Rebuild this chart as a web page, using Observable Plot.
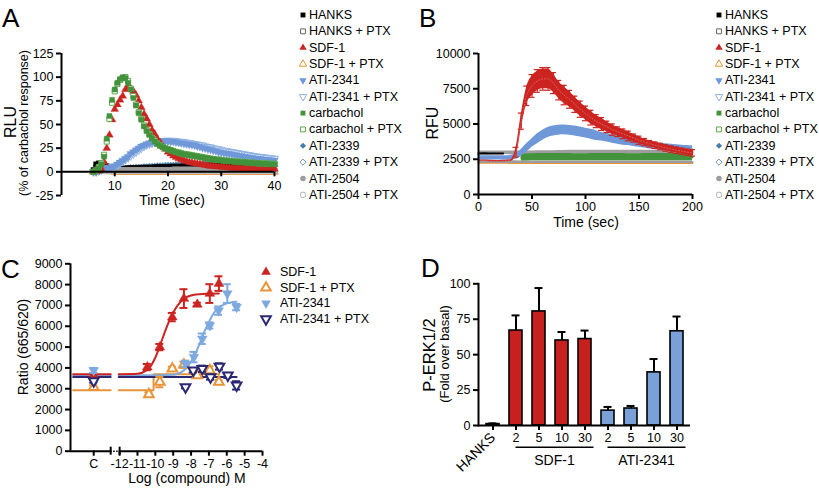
<!DOCTYPE html>
<html><head><meta charset="utf-8">
<script src="https://cdn.jsdelivr.net/npm/d3@7"></script>
<script src="https://cdn.jsdelivr.net/npm/@observablehq/plot@0.6"></script>
<style>
body{margin:0;background:#fff;}
#root{position:relative;width:819px;height:488px;overflow:hidden;background:#fff;}
</style></head><body><div id="root"></div>
<script>
// ---------------- DATA ----------------
// Panel A (RLU, % of carbachol response) sampled every 0.5 s
const timeA = [6,6.5,7,7.5,8,8.5,9,9.5,10,10.5,11,11.5,12,12.5,13,13.5,14,14.5,15,15.5,16,16.5,17,17.5,18,18.5,19,19.5,20,20.5,21,21.5,22,22.5,23,23.5,24,24.5,25,25.5,26,26.5,27,27.5,28,28.5,29,29.5,30,30.5,31,31.5,32,32.5,33,33.5,34,34.5,35,35.5,36,36.5,37,37.5,38,38.5,39,39.5,40];
const carbA = [0,2,4,8,16,35,59,76,87,94, 98,100,99,94,87,78,70,62,55,48, 43,39,35.5,32,29.5,27.5,26,24.5,23.5,22.5, 21.5,20.5,20,19,18.5,18,17.5,17,16.5,16, 15.5,15,14.5,14,13.5,13,12.5,12.5,12,11.5, 11.5,11,11,10.5,10.5,10,10,10,9.5,9.5, 9,9,9,8.5,8.5,8.5,8,8,8];
const carbPtxA = [0,1,5,9,18,32,56,73,85,93, 97,99,100,96,88,80,71,63,56,49, 44,40,36,33,30,28,26.5,25,24,23, 22,21,20.5,19.5,19,18.5,18,17.5,17,16.5, 16,15.5,15,14.5,14,13.5,13,13,12.5,12, 12,11.5,11.5,11,11,10.5,10.5,10,10,10, 9.5,9.5,9,9,9,8.5,8.5,8.5,8.5];
const sdfA = [0,0,1,3,10,25,39,55,66,71, 76,80,87,90,88,85,81,75,68,61, 56,50,44,40,35,31,27,24,21,19, 17,15.5,14,13,12,11,10,9.5,9,8.5, 8,7.5,7,6.5,6,6,5.5,5.5,5,5, 4.5,4.5,4,4,4,4,3.5,3.5,3.5,3.5, 3,3,3,3,3,3,3,3,3];
const sdfPtxA = [0,0,1,1,1,0.5,0.5,0.5,0,0, 0,0,0,0,0,0,0,0,0,0, 0,0,0,0,0,0,0,0,0,0, 0,0,0,0,0,0,0,0,0,0, 0,0,0,0,0,0,0,0,0,0, 0,0,0,0,0,0,0,0,0,0, 0,0,0,0,0,0,0,0,0];
const ati2341A = [0,0,2,3,4,4,4,5,6,8, 10,12,14,16,19,21,23,25,27,28, 29.5,30.5,31.5,32,32.5,32.5,32.5,32.5,32.5,32, 32,31.5,31,30.5,30,29.5,29,28.5,28,27, 26.5,25.5,25,24,23.5,22.5,22,21,20.5,20, 19.5,19,18.5,18,17.5,17,16.5,16,15.5,15, 14.5,14,14,13.5,13,13,12.5,12.5,12];
const ati2341PtxA = [0,0,1,2,3,4,4,5,6,7, 9,11,13,15,17,19,21,23,25,27, 28.5,29.5,30.5,31,31.5,32,32.5,33,33,33, 33,32.5,32,32,31.5,31,30.5,30,29.5,29, 28.5,28,27,26.5,26,25,24.5,24,23,22.5, 22,21.5,21,20.5,20,19.5,19,18.5,18,17.5, 17,16.5,16,16,15.5,15,15,14.5,14];
const hanksA = [2,8,9,9,8,6,4,3.5,3.5,3.5, 3.5,3.5,3.5,4,4,4,4,4,4.5,4.5, 4.5,4.5,4.5,5,5,5,5,5,5,5.5, 5.5,5.5,5.5,5.5,6,6,6,6,6,6, 6,6.5,6.5,6.5,6.5,6.5,6.5,7,7,7, 7,7,7,7,7,7.5,7.5,7.5,7.5,7.5, 7.5,7.5,8,8,8,8,8,8,8];
const hanksPtxA = [0,5,7,6,4,2,1,1,1,1, 1,1,1,1,1,1,1,1,1,1, 1,1,1,1,1,1,1,1,1,1, 1,1,1,1,1,1,1,1,1,1, 1,1,1,1,1,1,1,1,1,1, 1,1,1,1,1,1,1,1,1,1, 1,1,1,1,1,1,1,1,1];
const ati2339A = [0,1,2,3,3,3,3,3,3,3.5, 3.5,4,4,4,4.5,4.5,5,5,5,5.5, 5.5,6,6,6,6.5,6.5,6.5,7,7,7, 7,7.5,7.5,7.5,7.5,8,8,8,8,8, 8,8.5,8.5,8.5,8.5,8.5,8.5,9,9,9, 9,9,9,9,9,9,9,9,9,9, 9,9,9,9,9,9,9,9,9];
const ati2339PtxA = [0,1,2,2,2,2,2,2,2,2, 2.5,2.5,2.5,2.5,3,3,3,3,3,3.5, 3.5,3.5,3.5,4,4,4,4,4,4.5,4.5, 4.5,4.5,4.5,5,5,5,5,5,5,5, 5.5,5.5,5.5,5.5,5.5,5.5,5.5,6,6,6, 6,6,6,6,6,6,6,6,6,6, 6,6,6,6,6,6,6,6,6];
const ati2504A = [0,2,3,3,2,2,2,2,2,2, 2,2,2,2,2,2,2,2,2,2, 2,2,2,2,2,2,2,2,2,2, 2.5,2.5,2.5,2.5,2.5,2.5,2.5,2.5,2.5,2.5, 2.5,2.5,2.5,2.5,2.5,2.5,2.5,2.5,2.5,2.5, 3,3,3,3,3,3,3,3,3,3, 3,3,3,3,3,3,3,3,3];
const ati2504PtxA = [0,1,1,1,1,1,1,1,1,1, 1,1,1,1,1,1,1,1,1,1, 1,1,1,1,1,1,1,1,1,1, 1,1,1,1,1,1,1,1,1,1, 1,1,1,1,1,1,1,1,1,1, 1,1,1,1,1,1,1,1,1,1, 1,1,1,1,1,1,1,1,1];
const yTicksA = [-25,0,25,50,75,100,125];
const xTicksA = [10,20,30,40];

// Panel B (RFU)
const timeB5 = [0,5,10,15,20,25,30,35,40,45,50,55,60,65,70,75,80,85,90,95,100,105,110,115,120,125,130,135,140,145,150,155,160,165,170,175,180,185,190,195,200];
const timeB10 = [0,10,20,30,40,50,60,70,80,90,100,110,120,130,140,150,160,170,180,190,200];
const timeGreenB = [40,50,60,70,80,90,100,110,120,130,140,150,160,170,180,190,200];
const timeHanksB = [0,5,10,15,20,23];
const sdfB = [2400,2400,2380,2370,2370,2380,2400,3000,5200,7000,7700,8050,8200,8200,7900,7400,7050,6750,6400,6050,5750,5450,5200,5000,4800,4600,4450,4300,4150,4000,3850,3720,3600,3500,3400,3300,3220,3140,3070,3000,2950];
const sdfErrB = [50,50,50,50,50,50,60,300,500,600,700,700,700,700,650,600,600,550,500,500,450,450,400,400,350,350,300,300,300,250,250,220,200,200,200,200,200,200,200,200,200];
const ati2341B = [2600,2600,2600,2600,2600,2600,2620,2700,2950,3300,3650,3950,4200,4400,4500,4560,4580,4550,4500,4430,4350,4270,4180,4100,4020,3940,3870,3800,3730,3660,3600,3540,3480,3430,3390,3350,3310,3280,3250,3230,3200];
const ati2341ErrB = [150,150,150,150,150,150,150,200,250,300,300,350,350,350,350,350,350,350,350,350,350,350,350,300,300,300,300,300,250,250,250,250,250,250,250,250,250,250,250,250,250];
const carbB = [2620,2640,2650,2650,2650,2640,2640,2650,2650,2650,2640,2640,2650,2650,2650,2650,2650];
const carbErrB = 250;
const ati2504B = [2950,2950,2960,2950,2950,2960,2970,2980,2990,3000,3000,3000,3000,3000,3000,3000,3000,3000,3000,3000,3000];
const ati2504ErrB = 130;
const ati2504PtxB = [2320,2320,2310,2310,2300,2300,2300,2300,2300,2300,2300,2300,2300,2300,2300,2300,2300,2300,2300,2300,2300];
const ati2504PtxErrB = 80;
const sdfPtxB = [2250,2250,2250,2240,2240,2240,2240,2240,2240,2240,2240,2240,2240,2240,2240,2240,2240,2240,2240,2240,2240];
const sdfPtxErrB = 50;
const hanksB = [2900,2920,2900,2910,2900,2900];
const yTicksB = [0,2500,5000,7500,10000];
const xTicksB = [0,50,100,150,200];

// Panel C (Ratio 665/620 vs log [compound] M)
const cPosC = -13.45;            // position of the "C" (control) column
const sdfC = {x:[cPosC,-10.45,-9.75,-9.05,-8.40,-7.65,-6.95,-6.44], y:[3650,4040,5000,6440,7330,7050,7570,8050], e:[100,150,150,200,450,80,450,350]};
const sdfPtxC = {x:[cPosC,-10.36,-9.75,-9.05,-8.40,-7.65,-6.95,-6.44], y:[3070,2730,3320,3960,4150,3640,3880,3320], e:[100,100,250,100,150,100,200,100]};
const ati2341C = {x:[cPosC,-8.31,-7.84,-7.37,-6.95,-6.46,-5.97,-5.45], y:[3880,4200,4520,5400,6040,6750,7570,6920], e:[120,150,250,250,150,200,450,150]};
const ati2341PtxC = {x:[cPosC,-8.31,-7.88,-7.37,-6.91,-6.41,-5.94,-5.45], y:[3370,3080,3880,3960,3560,4070,3640,3160], e:[80,60,100,150,120,150,120,200]};
const fitSdfC = {x:[-14.6,-12.5,-12.3,-12.05,-11,-10.5,-10.25,-10,-9.75,-9.5,-9.25,-9,-8.75,-8.5,-8.25,-8,-7.5,-7,-6.44], y:[3700,3700,NaN,3700,3720,3880,4100,4500,5050,5650,6200,6650,7000,7250,7400,7480,7540,7560,7570]};
const fitAti2341C = {x:[-14.6,-12.5,-12.3,-12.05,-10,-9,-8.75,-8.5,-8.25,-8,-7.75,-7.5,-7.25,-7,-6.75,-6.5,-6.25,-6,-5.75,-5.45], y:[3650,3650,NaN,3650,3650,3670,3720,3820,4000,4300,4700,5200,5750,6200,6600,6850,7000,7100,7150,7180]};
const fitAti2341PtxC = {x:[-14.6,-12.5,-12.3,-12.05,-5.45], y:[3560,3560,NaN,3560,3560]};
const fitSdfPtxC = {x:[-14.6,-12.5,-12.3,-12.05,-10.1,-10.1,-6.44], y:[2930,2930,NaN,2930,2930,3700,3700]};
const xTickValsC = [cPosC,-12,-11,-10,-9,-8,-7,-6,-5,-4];
const xTickLabelsC = ["C","-12","-11","-10","-9","-8","-7","-6","-5","-4"];
const yTicksC = [0,1000,2000,3000,4000,5000,6000,7000,8000,9000];

// Panel D (P-ERK1/2, fold over basal)
const dIds = ["HANKS","S2","S5","S10","S30","A2","A5","A10","A30"];
const dTickLabels = ["","2","5","10","30","2","5","10","30"];
const dGroups = ["HANKS","SDF-1","SDF-1","SDF-1","SDF-1","ATI-2341","ATI-2341","ATI-2341","ATI-2341"];
const dValues = [1,67,80.5,60,61,10.5,12,37.5,66.5];
const dErrors = [0.5,10.7,16.5,6,6,2.6,1.8,9.4,10.4];
const yTicksD = [0,25,50,75,100];

// Legends
const legendAB = ["HANKS","HANKS + PTX","SDF-1","SDF-1 + PTX","ATI-2341","ATI-2341 + PTX","carbachol","carbachol + PTX","ATI-2339","ATI-2339 + PTX","ATI-2504","ATI-2504 + PTX"];
const legendC = ["SDF-1","SDF-1 + PTX","ATI-2341","ATI-2341 + PTX"];

// ---------------- STYLE ----------------
const W = 819, H = 488;
const FONT = "'Liberation Sans', Arial, Helvetica, sans-serif";
const baseStyle = `position:absolute;left:0;top:0;background:transparent;overflow:visible;font-family:${FONT};font-size:12.5px;color:#000;`;
const col = {
  black:"#000000", grayDk:"#666666", red:"#cc2420", orange:"#e8953a",
  blue:"#6f98d8", blueLt:"#8cb0e2", green:"#43923c", greenLt:"#5caa4e",
  steel:"#4a7ea8", steelLt:"#6a98bf", gray:"#9d9d9d", grayLt:"#b4b4b4",
  blueC:"#7ea9e0", navy:"#2a2872", barRed:"#c8201e", barBlue:"#7aa0d8"
};
const stAB = [
  {symbol:"square", color:col.black},
  {symbol:"square", color:col.grayDk, open:true},
  {symbol:"triangle", color:col.red},
  {symbol:"triangle", color:col.orange, open:true},
  {symbol:"triangle", color:col.blue, down:true},
  {symbol:"triangle", color:col.blueLt, open:true, down:true},
  {symbol:"square", color:col.green},
  {symbol:"square", color:col.greenLt, open:true},
  {symbol:"diamond2", color:col.steel},
  {symbol:"diamond2", color:col.steelLt, open:true},
  {symbol:"circle", color:col.gray},
  {symbol:"circle", color:col.grayLt, open:true}
];
const stC = [
  {symbol:"triangle", color:col.red},
  {symbol:"triangle", color:col.orange, open:true, sw:2},
  {symbol:"triangle", color:col.blueC, down:true},
  {symbol:"triangle", color:col.navy, open:true, down:true, sw:2}
];

const root = document.getElementById("root");

// ---------------- PANEL A ----------------
function dotsA(values, st) {
  const data = values.map((v, i) => ({t: timeA[i], v}));
  return Plot.dot(data, {x: "t", y: "v", r: 2.9, symbol: st.symbol, rotate: st.down ? 180 : 0,
    fill: st.open ? "#fff" : st.color, stroke: st.color, strokeWidth: st.open ? 1 : 0.3});
}
const orderA = [
  [sdfPtxA, 3], [hanksPtxA, 1], [ati2339PtxA, 9], [ati2339A, 8], [hanksA, 0],
  [ati2504PtxA, 11], [ati2504A, 10], [ati2341PtxA, 5], [ati2341A, 4], [sdfA, 2],
  [carbPtxA, 7], [carbA, 6]
];
const plotA = Plot.plot({
  width: W, height: H, marginLeft: 61, marginRight: W - 274, marginTop: 53, marginBottom: H - 195,
  style: baseStyle,
  x: {domain: [0, 40], axis: null},
  y: {domain: [-25, 125]},
  marks: [
    Plot.axisY(yTicksA, {tickSize: 5, tickPadding: 3, strokeWidth: 2, fontSize: 12.5, tickFormat: d => String(d), label: null}),
    ...orderA.map(([vals, k]) => dotsA(vals, stAB[k])),
    Plot.ruleX([0], {strokeWidth: 2}),
    Plot.ruleY([0], {strokeWidth: 2}),
    Plot.ruleX(xTicksA, {x: d => d, y1: 0, y2: 0, insetBottom: -5, strokeWidth: 2}),
    Plot.text(xTicksA, {x: d => d, y: 0, dy: 14, text: d => String(d), fontSize: 12.5})
  ]
});
root.appendChild(plotA);

// ---------------- PANEL B ----------------
function bandB(times, vals, errs, color, lineW = 2) {
  const data = vals.map((v, i) => ({t: times[i], v, e: Array.isArray(errs) ? errs[i] : errs}));
  return [
    Plot.areaY(data, {x: "t", y1: d => d.v - d.e, y2: d => d.v + d.e, fill: color, curve: "monotone-x"}),
    Plot.line(data, {x: "t", y: "v", stroke: color, strokeWidth: lineW, curve: "monotone-x"})
  ];
}
const sdfDataB = sdfB.map((v, i) => ({t: timeB5[i], v, e: sdfErrB[i]}));
const sdfBarsB = sdfDataB.filter(d => d.e > 100);
const plotB = Plot.plot({
  width: W, height: H, marginLeft: 478, marginRight: W - 692, marginTop: 53, marginBottom: H - 194,
  style: baseStyle,
  x: {domain: [0, 200]},
  y: {domain: [0, 10000]},
  marks: [
    Plot.axisY(yTicksB, {tickSize: 5, tickPadding: 3, strokeWidth: 2, fontSize: 12.5, tickFormat: d => String(d), label: null}),
    Plot.axisX(xTicksB, {tickSize: 5, tickPadding: 3, strokeWidth: 2, fontSize: 12.5, tickFormat: d => String(d), label: null}),
    ...bandB(timeB10, sdfPtxB, sdfPtxErrB, col.orange),
    ...bandB(timeB10, ati2504PtxB, ati2504PtxErrB, col.gray),
    ...bandB(timeB10, ati2504B, ati2504ErrB, col.gray),
    ...bandB(timeGreenB, carbB, carbErrB, col.green),
    Plot.line(hanksB.map((v, i) => ({t: timeHanksB[i], v})), {x: "t", y: "v", stroke: col.black, strokeWidth: 2}),
    ...bandB(timeB5, ati2341B, ati2341ErrB, col.blue),
    Plot.areaY(sdfDataB, {x: "t", y1: d => d.v - d.e, y2: d => d.v + d.e, fill: col.red, curve: "monotone-x"}),
    Plot.ruleX(sdfBarsB, {x: "t", y1: d => d.v - d.e * 1.15, y2: d => d.v + d.e * 1.15, stroke: col.red, strokeWidth: 1.2}),
    Plot.ruleY(sdfBarsB, {y: d => d.v + d.e * 1.15, x1: "t", x2: "t", insetLeft: -3, insetRight: -3, stroke: col.red, strokeWidth: 1.2}),
    Plot.ruleY(sdfBarsB, {y: d => d.v - d.e * 1.15, x1: "t", x2: "t", insetLeft: -3, insetRight: -3, stroke: col.red, strokeWidth: 1.2}),
    Plot.line(sdfDataB, {x: "t", y: "v", stroke: "#e06060", strokeWidth: 1, strokeDasharray: "1,2", curve: "monotone-x"}),
    Plot.ruleX([0], {strokeWidth: 2}),
    Plot.ruleY([0], {strokeWidth: 2})
  ]
});
root.appendChild(plotB);

// ---------------- PANEL C ----------------
function ptsC(s, st) {
  const data = s.x.map((x, i) => ({x, y: s.y[i], e: s.e[i]}));
  return [
    Plot.ruleX(data, {x: "x", y1: d => d.y - d.e, y2: d => d.y + d.e, stroke: st.color, strokeWidth: 2}),
    Plot.ruleY(data, {y: d => d.y + d.e, x1: "x", x2: "x", insetLeft: -4, insetRight: -4, stroke: st.color, strokeWidth: 2}),
    Plot.ruleY(data, {y: d => d.y - d.e, x1: "x", x2: "x", insetLeft: -4, insetRight: -4, stroke: st.color, strokeWidth: 2}),
    Plot.dot(data, {x: "x", y: "y", r: 3.6, symbol: st.symbol, rotate: st.down ? 180 : 0,
      fill: st.open ? "#fff" : st.color, stroke: st.color, strokeWidth: st.open ? 2 : 0.5})
  ];
}
function fitC(f, color, curve) {
  return Plot.line(f.x.map((x, i) => ({x, y: f.y[i]})), {x: "x", y: "y", stroke: color, strokeWidth: 2, curve});
}
const xMinC = -14.75, breakC = [-12.5, -12];
const plotC = Plot.plot({
  width: W, height: H, marginLeft: 70, marginRight: W - 262, marginTop: 263.3, marginBottom: H - 450.7,
  style: baseStyle,
  x: {domain: [xMinC, -4], axis: null},
  y: {domain: [0, 9000]},
  marks: [
    Plot.axisY(yTicksC, {tickSize: 5, tickPadding: 3, strokeWidth: 2, fontSize: 12.5, tickFormat: d => String(d), label: null}),
    Plot.ruleX([xMinC], {strokeWidth: 2}),
    Plot.ruleY([0], {x1: xMinC, x2: breakC[0], strokeWidth: 2}),
    Plot.ruleY([0], {x1: breakC[0], x2: breakC[1], strokeWidth: 1.5, strokeDasharray: "1.5,1.5"}),
    Plot.ruleY([0], {x1: breakC[1], x2: -4, strokeWidth: 2}),
    Plot.ruleX(breakC, {x: d => d, y1: 0, y2: 0, insetTop: -4, insetBottom: -4, strokeWidth: 2}),
    Plot.ruleX(xTickValsC, {x: d => d, y1: 0, y2: 0, insetBottom: -5, strokeWidth: 2}),
    Plot.text(xTickValsC, {x: d => d, y: 0, dy: 13, text: (d, i) => xTickLabelsC[i], fontSize: 12.5}),
    fitC(fitSdfPtxC, col.orange, "linear"),
    fitC(fitAti2341C, col.blueC, "monotone-x"),
    fitC(fitAti2341PtxC, col.navy, "linear"),
    fitC(fitSdfC, col.red, "monotone-x"),
    ...ptsC(sdfC, stC[0]),
    ...ptsC(sdfPtxC, stC[1]),
    ...ptsC(ati2341C, stC[2]),
    ...ptsC(ati2341PtxC, stC[3])
  ]
});
root.appendChild(plotC);

// ---------------- PANEL D ----------------
const dData = dIds.map((id, i) => ({id, g: dGroups[i], v: dValues[i], e: dErrors[i]}));
const dFill = {"HANKS": col.black, "SDF-1": col.barRed, "ATI-2341": col.barBlue};
const plotD = Plot.plot({
  width: W, height: H, marginLeft: 478, marginRight: W - 690, marginTop: 283.3, marginBottom: H - 425,
  style: baseStyle,
  color: {type: "identity"},
  x: {type: "band", domain: dIds, paddingInner: 0.45, paddingOuter: 0.26},
  y: {domain: [0, 100]},
  marks: [
    Plot.axisY(yTicksD, {tickSize: 5, tickPadding: 3, strokeWidth: 2, fontSize: 12.5, tickFormat: d => String(d), label: null}),
    Plot.axisX({tickSize: 5, tickPadding: 3, strokeWidth: 2, fontSize: 12.5, tickFormat: id => dTickLabels[dIds.indexOf(id)], label: null}),
    Plot.ruleX(dData, {x: "id", y1: "v", y2: d => d.v + d.e, strokeWidth: 2}),
    Plot.ruleY(dData, {y: d => d.v + d.e, x1: "id", x2: "id", insetLeft: 2.5, insetRight: 2.5, strokeWidth: 2}),
    Plot.barY(dData, {x: "id", y: "v", fill: d => dFill[d.g], stroke: "#000", strokeWidth: 1.6}),
    Plot.frame({anchor: "left", strokeWidth: 2}),
    Plot.ruleY([0], {strokeWidth: 2})
  ]
});
root.appendChild(plotD);

// ---------------- TEXT / LEGENDS OVERLAY ----------------
const ov = d3.select(root).append("svg").attr("width", W).attr("height", H).attr("style", baseStyle);
function txt(s, x, y, o = {}) {
  const t = ov.append("text").attr("x", x).attr("y", y)
    .attr("text-anchor", o.anchor || "middle")
    .attr("dominant-baseline", o.baseline || "central")
    .attr("font-size", o.size || 14).attr("fill", "#000").text(s);
  if (o.rotate) t.attr("transform", `rotate(${o.rotate},${x},${y})`);
  return t;
}
const symMap = {square: d3.symbolSquare, triangle: d3.symbolTriangle, diamond2: d3.symbolDiamond2, circle: d3.symbolCircle};
function legend(names, styles, xm, xt, y0, dy, size) {
  names.forEach((n, i) => {
    const st = styles[i], y = y0 + i * dy;
    ov.append("path").attr("d", d3.symbol(symMap[st.symbol], size)())
      .attr("transform", `translate(${xm},${y}) rotate(${st.down ? 180 : 0})`)
      .attr("fill", st.open ? "#fff" : st.color).attr("stroke", st.color)
      .attr("stroke-width", st.open ? (st.sw || 1) : 0);
    txt(n, xt, y, {anchor: "start", size: 12.5});
  });
}
legend(legendAB, stAB, 303, 309, 15, 16.35, 24);
legend(legendAB, stAB, 719, 725, 15, 16.35, 24);
legend(legendC, stC, 266, 280, 272, 15.7, 40);

// panel letters
txt("A", 2, 27, {anchor: "start", baseline: "alphabetic", size: 26});
txt("B", 419, 27, {anchor: "start", baseline: "alphabetic", size: 26});
txt("C", 1, 278, {anchor: "start", baseline: "alphabetic", size: 26});
txt("D", 421, 277, {anchor: "start", baseline: "alphabetic", size: 26});

// axis titles
txt("RLU", 10, 122, {size: 16, rotate: -90});
txt("(% of carbachol response)", 23.5, 123, {size: 12.5, rotate: -90});
txt("Time (sec)", 172, 200, {size: 14});
txt("RFU", 432, 123, {size: 16, rotate: -90});
txt("Time (sec)", 586, 222, {size: 14});
txt("Ratio (665/620)", 23, 347, {size: 14, rotate: -90});
txt("Log (compound) M", 187, 478, {size: 14});
txt("P-ERK1/2", 428.5, 355, {size: 16.5, rotate: -90});
txt("(Fold over basal)", 444, 354, {size: 13, rotate: -90});

// D group labels from the band scale
const sx = plotD.scale("x");
const ctr = id => sx.apply(id) + sx.bandwidth / 2;
[["SDF-1", "S2", "S30"], ["ATI-2341", "A2", "A30"]].forEach(([name, a, b]) => {
  const x1 = ctr(a), x2 = ctr(b) + 9;
  ov.append("line").attr("x1", x1).attr("x2", x2).attr("y1", 447.3).attr("y2", 447.3).attr("stroke", "#000").attr("stroke-width", 1.5);
  txt(name, (x1 + x2) / 2, 460, {size: 14});
});
txt("HANKS", ctr("HANKS") - 17, 452, {size: 14, rotate: -45});
</script></body></html>
